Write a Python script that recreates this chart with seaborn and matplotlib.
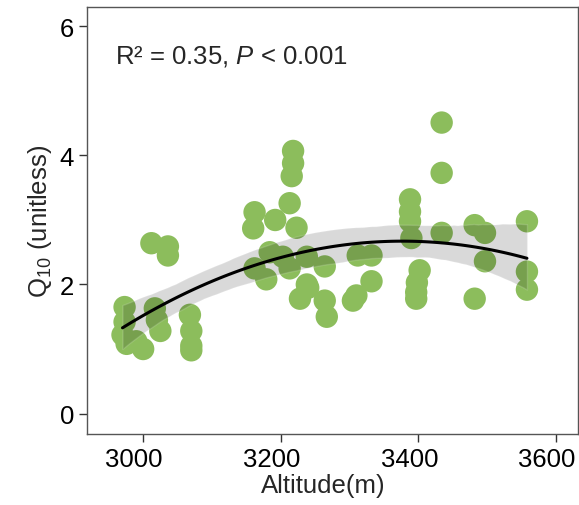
import numpy as np
import pandas as pd
import seaborn as sns
import matplotlib.pyplot as plt
from matplotlib.transforms import ScaledTranslation

# Values
altitude = [2973, 2973, 2970, 2976, 3000, 2990, 3017, 3020, 3025, 3012, 3036,
            3036, 3068, 3070, 3070, 3070,
            3218, 3218, 3216, 3213, 3162, 3160, 3192, 3223, 3184, 3203,
            3162, 3179, 3213, 3238, 3264, 3238, 3228, 3240, 3264, 3267,
            3312, 3332, 3332, 3310, 3305,
            3388, 3388, 3388, 3390, 3434, 3434, 3434, 3402, 3398, 3397,
            3397, 3482, 3497, 3497, 3482, 3558, 3558, 3558]
q10 = [1.65, 1.42, 1.22, 1.08, 1.00, 1.12, 1.63, 1.45, 1.28, 2.64, 2.59,
       2.45, 1.53, 1.28, 1.05, 0.98,
       4.07, 3.88, 3.68, 3.26, 3.12, 2.87, 3.00, 2.88, 2.50, 2.43,
       2.25, 2.08, 2.25, 2.43, 2.28, 2.00, 1.78, 1.95, 1.75, 1.50,
       2.45, 2.45, 2.05, 1.83, 1.75,
       3.32, 3.13, 2.98, 2.72, 4.51, 3.73, 2.80, 2.22, 2.03, 1.88,
       1.78, 2.92, 2.80, 2.36, 1.78, 2.98, 2.20, 1.92]

X_TICKS = [3000, 3200, 3400, 3600]
Y_TICKS = [0, 2, 4, 6]
FS = 18.5

sns.set_theme(style="ticks")
plt.rcParams['font.family'] = ['Liberation Sans', 'DejaVu Sans']
plt.rcParams['mathtext.fontset'] = 'custom'
plt.rcParams['mathtext.rm'] = 'Liberation Sans'
plt.rcParams['mathtext.it'] = 'Liberation Sans:italic'
plt.rcParams['mathtext.default'] = 'regular'

df = pd.DataFrame({'Altitude': altitude, 'Q10': q10})

fig = plt.figure(figsize=(5.79, 5.06), dpi=100)
ax = fig.add_axes([0.151, 0.14, 0.847, 0.844])

# points first, fit band goes over them
sns.scatterplot(data=df, x='Altitude', y='Q10', ax=ax, s=260,
                color='#8cbd5c', edgecolor='none', zorder=2)
sns.regplot(data=df, x='Altitude', y='Q10', ax=ax, order=2, scatter=False,
            color='black', line_kws={'linewidth': 2.2, 'zorder': 4}, seed=0)
ax.collections[-1].set_alpha(0.15)
ax.collections[-1].set_zorder(3)

ax.set_xlim(2919, 3632)
ax.set_ylim(-0.32, 6.3)
ax.set_xticks(X_TICKS)
ax.set_yticks(Y_TICKS)
ax.tick_params(direction='out', length=6, width=1, colors='#333333',
               labelsize=FS, labelcolor='black')
for sp in ax.spines.values():
    sp.set_visible(True)
    sp.set_color('#555555')
    sp.set_linewidth(1)

ax.set_xlabel('Altitude(m)', fontsize=FS, labelpad=1)
ax.set_ylabel('Q$_{10}$ (unitless)', fontsize=FS, labelpad=4)

# x-axis text sits a little left of the ticks in the original
shift = ScaledTranslation(-9 / 100, 0, fig.dpi_scale_trans)
for lab in ax.get_xticklabels():
    lab.set_transform(lab.get_transform() + shift)
ax.xaxis.label.set_transform(ax.xaxis.label.get_transform() + shift)

ax.text(0.057, 0.886, 'R² = 0.35, $\\mathit{P}$ < 0.001', transform=ax.transAxes,
        ha='left', va='center', fontsize=FS)

plt.savefig('out.png', dpi=100)
plt.close()
